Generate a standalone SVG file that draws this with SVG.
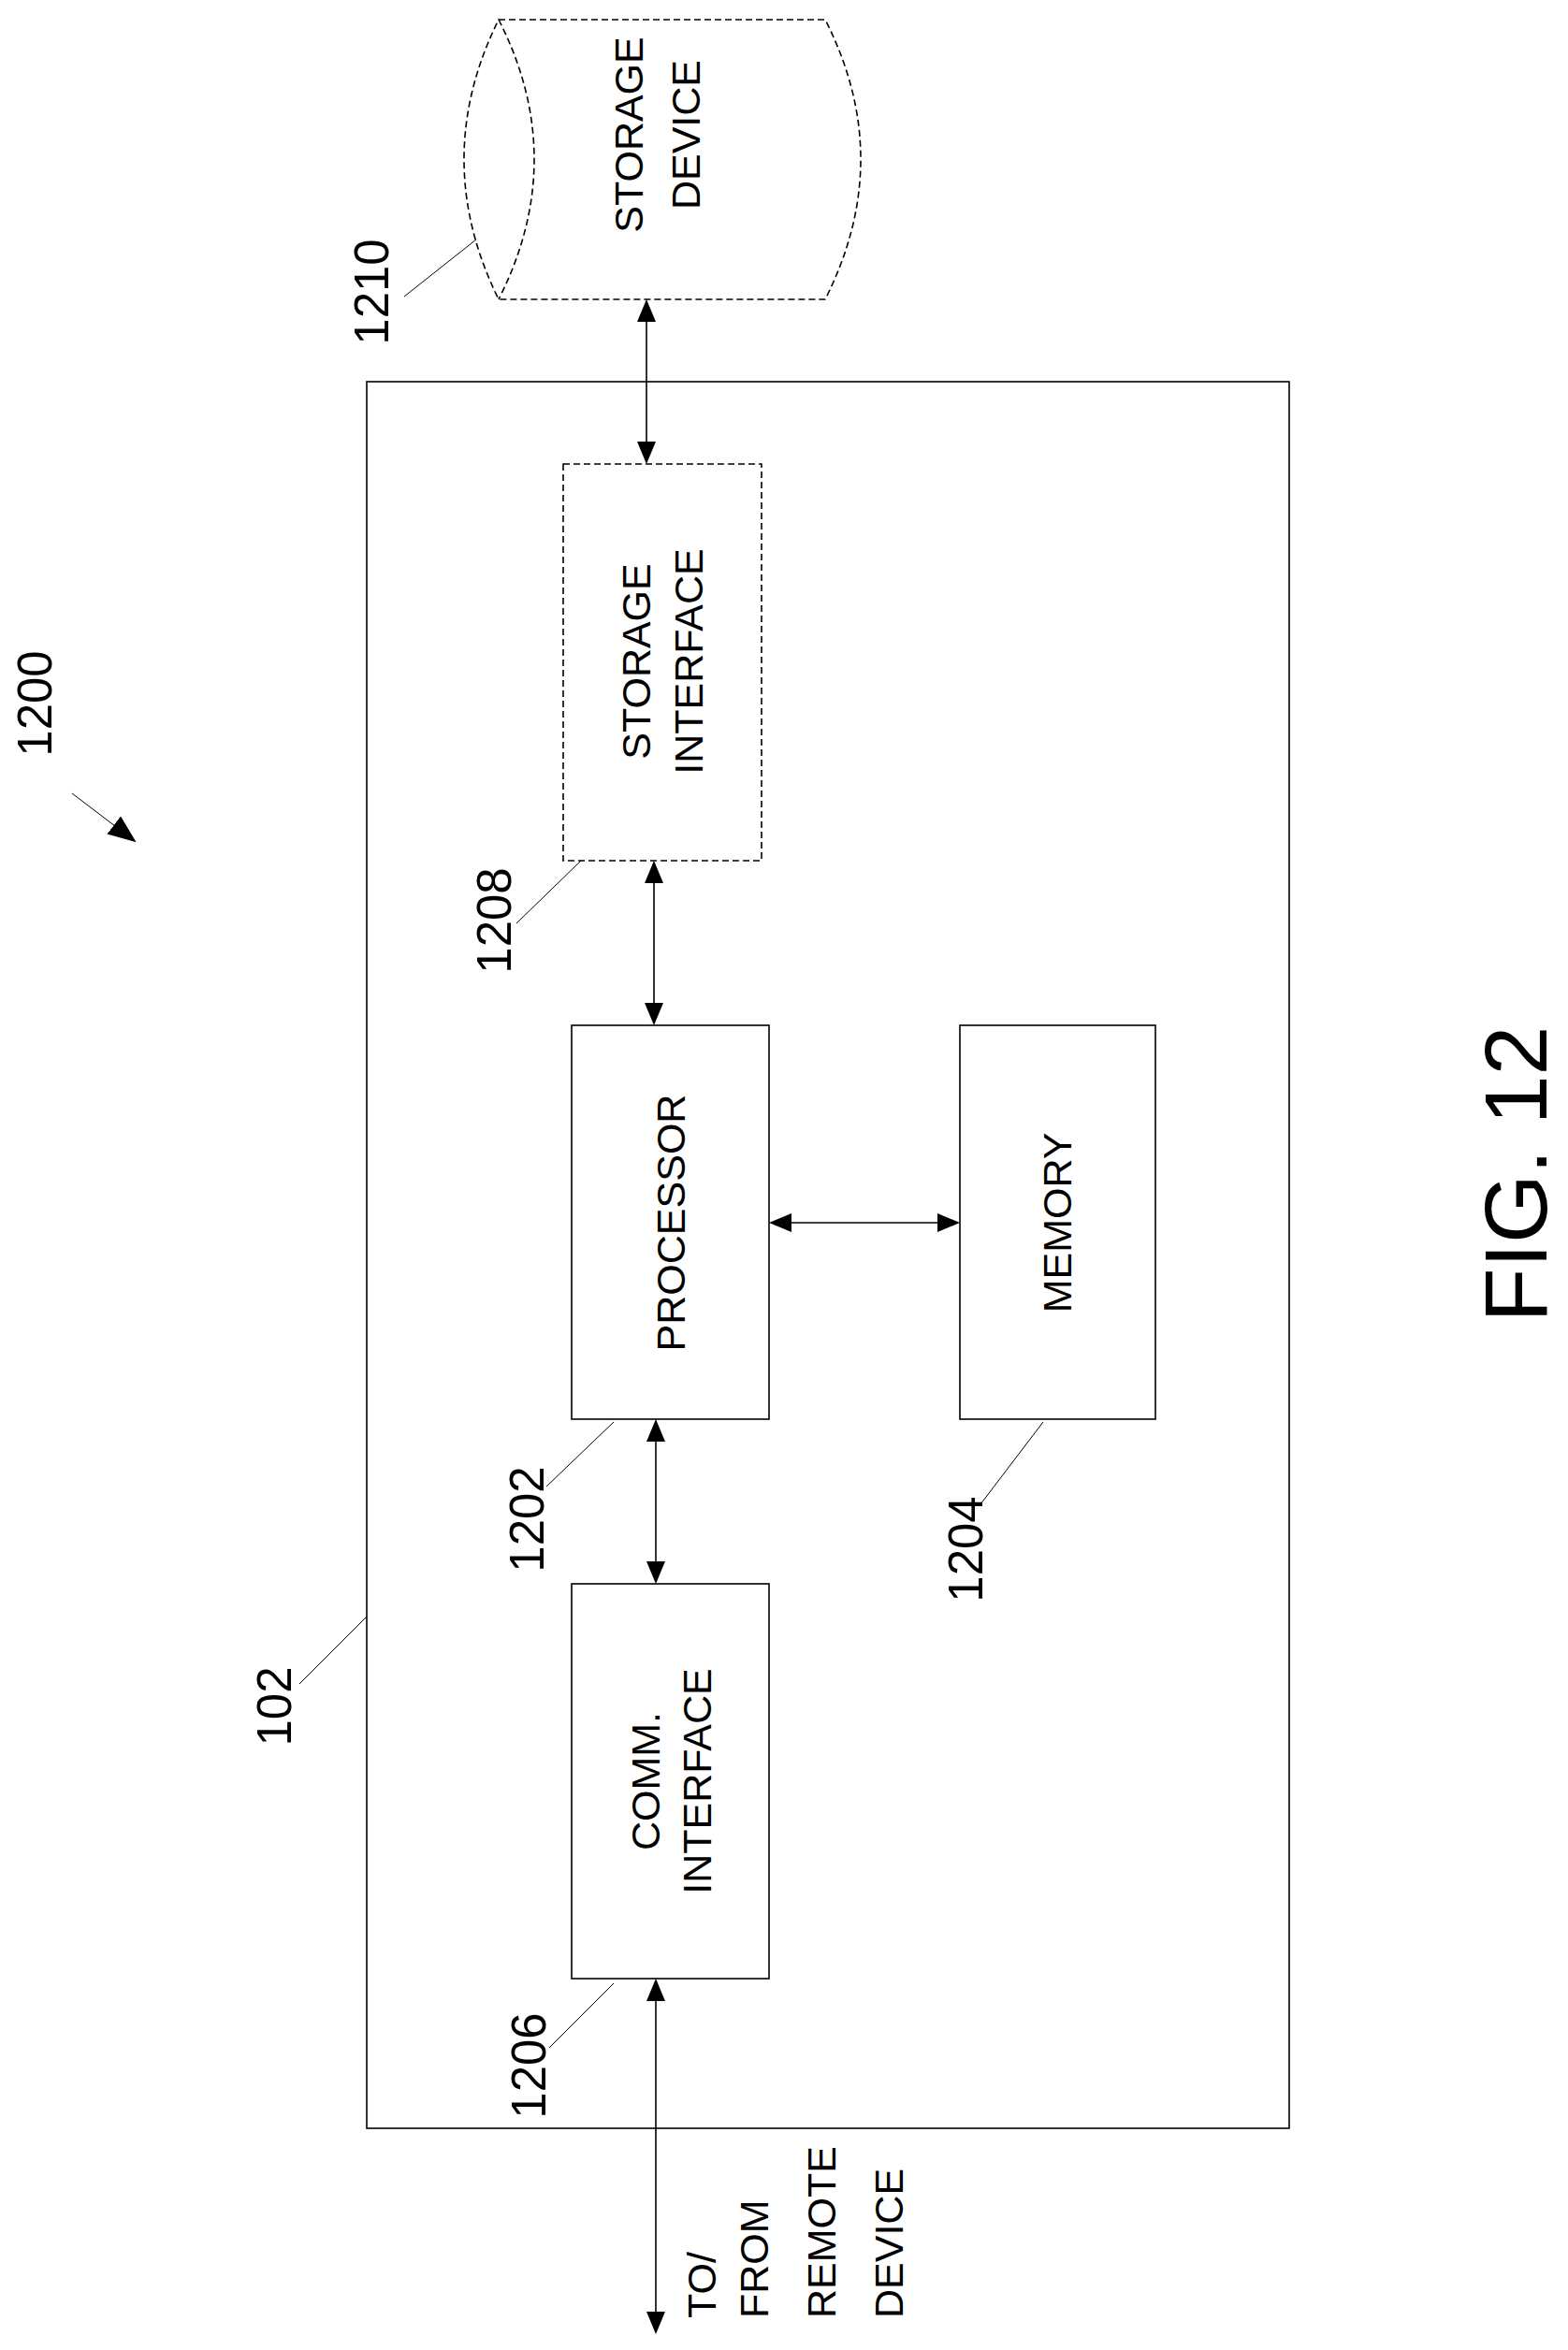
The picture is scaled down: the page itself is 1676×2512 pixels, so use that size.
<svg xmlns="http://www.w3.org/2000/svg" width="1676" height="2512" viewBox="0 0 1676 2512">
<style>
.b{fill:none;stroke:#000;stroke-width:1.6}
.d{fill:none;stroke:#000;stroke-width:1.6;stroke-dasharray:7,4}
.l{fill:none;stroke:#000;stroke-width:1}
.c{fill:none;stroke:#000;stroke-width:1.6;marker-start:url(#a);marker-end:url(#a)}
text{font-family:"Liberation Sans",Arial,sans-serif;font-size:43px;fill:#000;text-anchor:middle;dominant-baseline:central}
.n{font-size:51px}
</style>
<defs>
<marker id="a" markerUnits="userSpaceOnUse" markerWidth="24" markerHeight="20" refX="22" refY="10" orient="auto-start-reverse" viewBox="0 0 24 20"><path d="M0,0 L24,10 L0,20 Z" fill="#000"/></marker>
<marker id="b" markerUnits="userSpaceOnUse" markerWidth="30" markerHeight="24" refX="28" refY="12" orient="auto" viewBox="0 0 30 24"><path d="M0,0 L30,12 L0,24 Z" fill="#000"/></marker>
</defs>
<rect id="device102" x="392" y="408" width="986" height="1867" class="b"/>
<g id="storage-device">
<path class="d" d="M533,21 L882,21 Q958,170 882,320 L533,320 Q459,170 533,21 Q609,170 533,320"/>
<text transform="translate(672,144) rotate(-90)">STORAGE</text>
<text transform="translate(733,144) rotate(-90)">DEVICE</text>
</g>
<g id="storage-interface">
<rect x="602" y="496" width="212" height="424" class="d"/>
<text transform="translate(680,707) rotate(-90)">STORAGE</text>
<text transform="translate(736,707) rotate(-90)">INTERFACE</text>
</g>
<g id="processor">
<rect x="611" y="1096" width="211" height="421" class="b"/>
<text transform="translate(717,1307) rotate(-90)">PROCESSOR</text>
</g>
<g id="memory">
<rect x="1026" y="1096" width="209" height="421" class="b"/>
<text transform="translate(1130,1307) rotate(-90)">MEMORY</text>
</g>
<g id="comm-interface">
<rect x="611" y="1693" width="211" height="422" class="b"/>
<text transform="translate(690,1904) rotate(-90)">COMM.</text>
<text transform="translate(745,1904) rotate(-90)">INTERFACE</text>
</g>
<g id="connectors">
<line class="c" x1="691" y1="322" x2="691" y2="494"/>
<line class="c" x1="699" y1="922" x2="699" y2="1094"/>
<line class="c" x1="824" y1="1307" x2="1024" y2="1307"/>
<line class="c" x1="701" y1="1519" x2="701" y2="1691"/>
<line class="c" x1="701" y1="2117" x2="701" y2="2493"/>
<line class="l" x1="77" y1="848" x2="144" y2="899" marker-end="url(#b)"/>
<line class="l" x1="432" y1="317" x2="509" y2="256"/>
<line class="l" x1="552" y1="987" x2="621" y2="920"/>
<line class="l" x1="584" y1="1589" x2="656" y2="1520"/>
<line class="l" x1="1048" y1="1608" x2="1115" y2="1520"/>
<line class="l" x1="320" y1="1800" x2="392" y2="1728"/>
<line class="l" x1="587" y1="2189" x2="656" y2="2120"/>
</g>
<g id="labels">
<text class="n" transform="translate(397,312) rotate(-90)">1210</text>
<text class="n" transform="translate(37,752) rotate(-90)">1200</text>
<text class="n" transform="translate(528,984) rotate(-90)">1208</text>
<text class="n" transform="translate(563,1624) rotate(-90)">1202</text>
<text class="n" transform="translate(1032,1656) rotate(-90)">1204</text>
<text class="n" transform="translate(293,1824) rotate(-90)">102</text>
<text class="n" transform="translate(565,2208) rotate(-90)">1206</text>
<g transform="translate(0,2478) rotate(-90)">
<text x="0" y="750" style="text-anchor:start">TO/</text>
<text x="0" y="806" style="text-anchor:start">FROM</text>
<text x="0" y="878" style="text-anchor:start">REMOTE</text>
<text x="0" y="950" style="text-anchor:start">DEVICE</text>
</g>
<text transform="translate(1620,1255) rotate(-90)" style="font-size:95px">FIG. 12</text>
</g>
</svg>
